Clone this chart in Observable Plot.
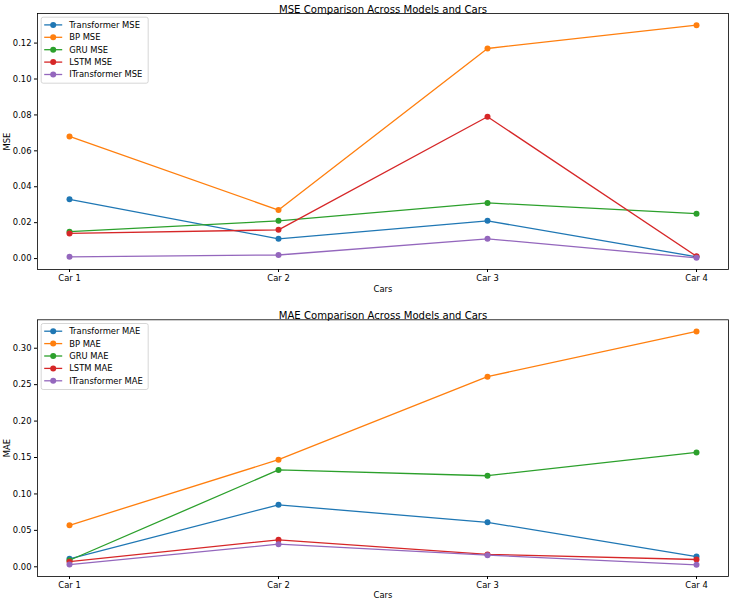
<!DOCTYPE html>
<html>
<head>
<meta charset="utf-8">
<script src="https://cdn.jsdelivr.net/npm/d3@7"></script>
<script src="https://cdn.jsdelivr.net/npm/@observablehq/plot@0.6"></script>
<style>
  body { margin: 0; background: #fff; }
  #chart { width: 729px; height: 601px; font-family: "DejaVu Sans", sans-serif; }
  #chart svg { display: block; }
</style>
</head>
<body>
<div id="chart"></div>
<script>
// Categories and series
const cars = ["Car 1", "Car 2", "Car 3", "Car 4"];
const models = ["Transformer", "BP", "GRU", "LSTM", "ITransformer"];
const palette = ["#1f77b4", "#ff7f0e", "#2ca02c", "#d62728", "#9467bd"];

// Mean squared error per car
const mseTransformer = [0.033, 0.011, 0.021, 0.001];
const mseBP = [0.068, 0.027, 0.117, 0.130];
const mseGRU = [0.015, 0.021, 0.031, 0.025];
const mseLSTM = [0.014, 0.016, 0.079, 0.0013];
const mseITransformer = [0.001, 0.002, 0.011, 0.0004];

// Mean absolute error per car
const maeTransformer = [0.011, 0.085, 0.061, 0.014];
const maeBP = [0.057, 0.147, 0.261, 0.323];
const maeGRU = [0.009, 0.133, 0.125, 0.157];
const maeLSTM = [0.007, 0.037, 0.017, 0.010];
const maeITransformer = [0.003, 0.031, 0.016, 0.0027];

// Tick values
const mseTicks = [0, 0.02, 0.04, 0.06, 0.08, 0.10, 0.12];
const maeTicks = [0, 0.05, 0.10, 0.15, 0.20, 0.25, 0.30];

function panel({metric, series, ticks, height, marginTop, marginBottom, xLabelOffset}) {
  const names = models.map(m => `${m} ${metric}`);
  const rows = series.flatMap((vals, i) =>
    vals.map((v, j) => ({series: names[i], car: cars[j], value: v})));
  const all = rows.map(d => d.value);
  const lo = d3.min(all), hi = d3.max(all), pad = (hi - lo) * 0.05;

  const marginLeft = 37, marginRight = 1;
  const perSeries = names.flatMap(name => {
    const data = rows.filter(d => d.series === name);
    return [
      Plot.line(data, {x: "car", y: "value", stroke: "series", strokeWidth: 1.3}),
      Plot.dot(data, {x: "car", y: "value", fill: "series", r: 3})
    ];
  });

  const svg = Plot.plot({
    width: 729, height, marginLeft, marginRight, marginTop, marginBottom,
    style: {fontFamily: "DejaVu Sans, sans-serif", fontSize: "8.4px", color: "#000", background: "#fff"},
    x: {type: "point", domain: cars, padding: 0.15},
    y: {domain: [lo - pad, hi + pad]},
    color: {domain: names, range: palette},
    marks: [
      Plot.axisX({tickSize: 3, tickPadding: 3, label: "Cars", labelAnchor: "center",
                  labelArrow: "none", labelOffset: xLabelOffset}),
      Plot.axisY({ticks, tickFormat: d3.format(".2f"), tickSize: 3, tickPadding: 3,
                  label: metric, labelAnchor: "center", labelArrow: "none", labelOffset: 33}),
      ...perSeries,
      Plot.frame({stroke: "#000", strokeWidth: 0.8}),
      Plot.text([`${metric} Comparison Across Models and Cars`], {
        frameAnchor: "top", dy: -8, fontSize: 10.1, fill: "#000"
      })
    ]
  });

  // Legend box in the upper-left corner of the frame
  const g = d3.select(svg).append("g")
    .attr("font-size", "8.4px").attr("text-anchor", "start");
  const bx = marginLeft + 4.2, by = marginTop + 4.2, rowH = 12.4;
  g.append("rect")
    .attr("x", bx).attr("y", by).attr("width", 107).attr("height", 66)
    .attr("rx", 2).attr("fill", "#fff").attr("fill-opacity", 0.8)
    .attr("stroke", "#ccc").attr("stroke-width", 0.8);
  names.forEach((name, i) => {
    const cy = by + 7.7 + i * rowH;
    g.append("line").attr("x1", bx + 3).attr("x2", bx + 21).attr("y1", cy).attr("y2", cy)
      .attr("stroke", palette[i]).attr("stroke-width", 1.3);
    g.append("circle").attr("cx", bx + 12).attr("cy", cy).attr("r", 3).attr("fill", palette[i]);
    g.append("text").attr("x", bx + 28).attr("y", cy).attr("dy", "0.35em")
      .attr("text-anchor", "start").attr("fill", "#000").text(name);
  });
  return svg;
}

const chart = document.getElementById("chart");
chart.append(panel({
  metric: "MSE",
  series: [mseTransformer, mseBP, mseGRU, mseLSTM, mseITransformer],
  ticks: mseTicks, height: 300, marginTop: 13, marginBottom: 31, xLabelOffset: 22
}));
chart.append(panel({
  metric: "MAE",
  series: [maeTransformer, maeBP, maeGRU, maeLSTM, maeITransformer],
  ticks: maeTicks, height: 301, marginTop: 19.3, marginBottom: 25, xLabelOffset: 21
}));
</script>
</body>
</html>
